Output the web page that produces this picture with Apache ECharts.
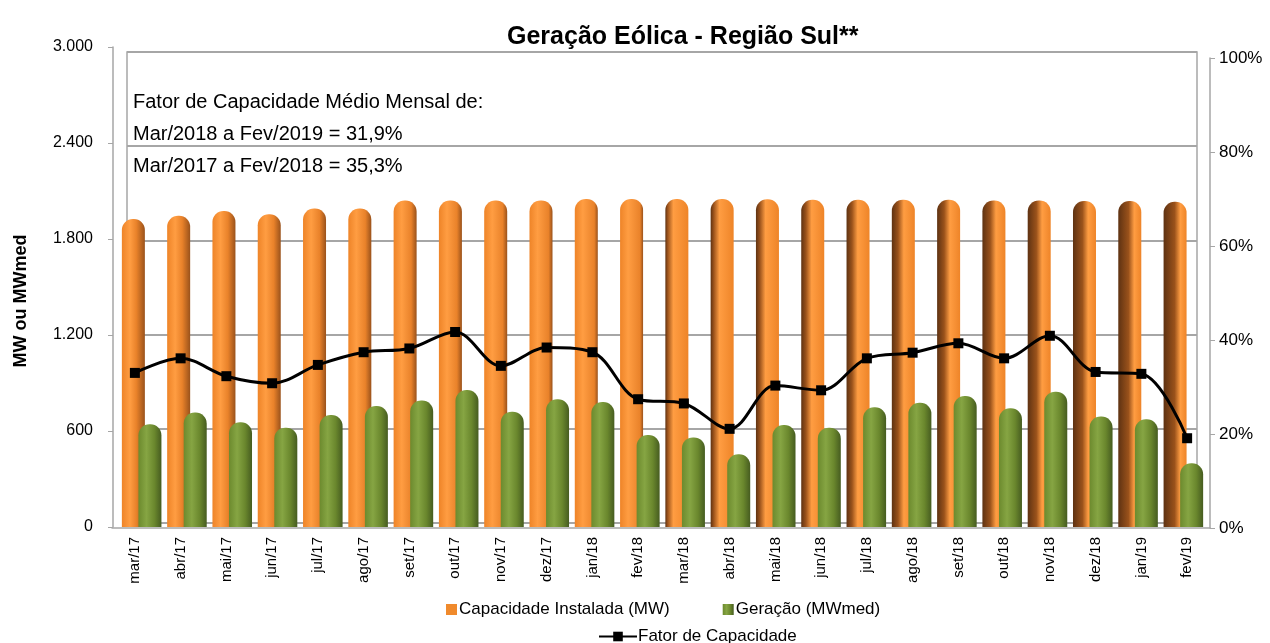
<!DOCTYPE html>
<html>
<head>
<meta charset="utf-8">
<script src="https://cdn.jsdelivr.net/npm/echarts@6/dist/echarts.min.js"></script>
<style>
  html, body { margin: 0; padding: 0; background: #fff; }
  #chart { width: 1270px; height: 643px; }
</style>
</head>
<body>
<div id="chart"></div>
<script>
// dados
const categories = ['mar/17', 'abr/17', 'mai/17', 'jun/17', 'jul/17', 'ago/17', 'set/17', 'out/17', 'nov/17', 'dez/17', 'jan/18', 'fev/18',
  'mar/18', 'abr/18', 'mai/18', 'jun/18', 'jul/18', 'ago/18', 'set/18', 'out/18', 'nov/18', 'dez/18', 'jan/19', 'fev/19'];
const capacidade = [1925, 1945, 1975, 1955, 1990, 1990, 2040, 2040, 2040, 2040, 2050, 2050,
  2050, 2050, 2048, 2045, 2045, 2045, 2045, 2040, 2040, 2038, 2038, 2033];
const geracao = [642, 715, 654, 621, 700, 756, 790, 856, 721, 798, 781, 575,
  560, 454, 637, 621, 748, 777, 819, 742, 846, 690, 673, 398];
const fator = [33.0, 36.1, 32.3, 30.8, 34.7, 37.4, 38.2, 41.7, 34.5, 38.4, 37.4, 27.4,
  26.5, 21.1, 30.3, 29.3, 36.1, 37.3, 39.3, 36.1, 40.9, 33.2, 32.8, 19.1];
const leftTicks = [0, 600, 1200, 1800, 2400, 3000];
const rightTicks = [0, 20, 40, 60, 80, 100];
const notas = ['Fator de Capacidade Médio Mensal de:', 'Mar/2018 a Fev/2019 = 31,9%', 'Mar/2017 a Fev/2018 = 35,3%'];

const chart = echarts.init(document.getElementById('chart'));
const font = 'Liberation Sans, Arial, sans-serif';
const gridGray = '#A6A6A6';

// sombreamento "3D" dos cilindros laranja: escuro à direita no início, à esquerda no fim
function orangeFor(i) {
  const mid = 11.5;
  if (i <= mid) {
    const d = 0.12 + (mid - i) / mid * 0.25;
    return new echarts.graphic.LinearGradient(0, 0, 1, 0, [
      { offset: 0, color: '#EE8428' },
      { offset: 0.35, color: '#FF9D42' },
      { offset: 1 - d, color: '#E9822A' },
      { offset: 1, color: '#9A521B' }
    ]);
  }
  const d = 0.08 + (i - mid) / mid * 0.4;
  return new echarts.graphic.LinearGradient(0, 0, 1, 0, [
    { offset: 0, color: '#5E3212' },
    { offset: d, color: '#9A521B' },
    { offset: Math.min(d + 0.25, 0.9), color: '#FF9D42' },
    { offset: 1, color: '#EE8428' }
  ]);
}
const green = new echarts.graphic.LinearGradient(0, 0, 1, 0, [
  { offset: 0, color: '#6C8A2E' },
  { offset: 0.35, color: '#86A543' },
  { offset: 0.7, color: '#6A872D' },
  { offset: 1, color: '#465C20' }
]);

const option = {
  backgroundColor: '#fff',
  animation: false,
  color: ['#F08A2C', '#7A9A3A', '#000'],
  textStyle: { fontFamily: font },
  title: [
    {
      text: 'Geração Eólica - Região Sul**',
      left: 502, top: 20,
      textStyle: { fontSize: 25, fontWeight: 'bold', color: '#000', fontFamily: font }
    },
    {
      text: notas.join('\n'),
      left: 128, top: 81,
      textStyle: { fontSize: 20, fontWeight: 'normal', color: '#000', lineHeight: 32, fontFamily: font }
    }
  ],
  graphic: [
    {
      type: 'text', x: 21, y: 301, rotation: Math.PI / 2,
      style: {
        text: 'MW ou MWmed', fill: '#000', font: 'bold 18px ' + font,
        textAlign: 'center', textVerticalAlign: 'middle'
      }
    }
  ],
  legend: [
    {
      data: ['Capacidade Instalada (MW)', 'Geração (MWmed)'],
      left: 441, top: 596,
      icon: 'rect', itemWidth: 11, itemHeight: 11, itemGap: 53,
      textStyle: { fontSize: 17, color: '#000', padding: [0, 0, 0, -3] }
    },
    {
      data: ['Fator de Capacidade'],
      left: 593, top: 623,
      itemWidth: 38, itemHeight: 12,
      textStyle: { fontSize: 17, color: '#000', padding: [0, 0, 0, -4] }
    }
  ],
  grid: [
    // barras + eixo esquerdo
    { left: 119, right: 64, top: 47, bottom: 116 },
    // linha + eixo direito + categorias
    { left: 112, right: 60, top: 58, bottom: 115 },
    // parede do fundo
    { left: 127, right: 73, top: 52, bottom: 120, show: true, borderColor: gridGray, borderWidth: 1.5, backgroundColor: 'transparent' }
  ],
  xAxis: [
    { type: 'category', gridIndex: 0, data: categories, show: false },
    {
      type: 'category', gridIndex: 1, data: categories,
      axisLine: { lineStyle: { color: gridGray, width: 1.5 } },
      axisTick: { lineStyle: { color: gridGray }, length: 5 },
      axisLabel: { rotate: 90, fontSize: 15, color: '#000', margin: 9 }
    },
    { type: 'category', gridIndex: 2, data: categories, show: false }
  ],
  yAxis: [
    {
      type: 'value', gridIndex: 0, min: leftTicks[0], max: leftTicks[leftTicks.length - 1], interval: 600,
      offset: 6,
      axisLine: { show: true, lineStyle: { color: gridGray, width: 1.5 } },
      axisTick: { show: true, length: 5, lineStyle: { color: gridGray } },
      axisLabel: {
        fontSize: 16, color: '#000', margin: 20,
        formatter: v => v.toLocaleString('pt-BR')
      },
      splitLine: { show: false }
    },
    {
      type: 'value', gridIndex: 1, position: 'right', min: rightTicks[0], max: rightTicks[rightTicks.length - 1], interval: 20,
      axisLine: { show: true, lineStyle: { color: gridGray, width: 1.5 } },
      axisTick: { show: true, length: 5, lineStyle: { color: gridGray } },
      axisLabel: { fontSize: 17, color: '#000', margin: 9, formatter: '{value}%' },
      splitLine: { show: false }
    },
    {
      type: 'value', gridIndex: 2, min: 0, max: 3000, interval: 600,
      axisLine: { show: false }, axisTick: { show: false }, axisLabel: { show: false },
      splitLine: { show: true, lineStyle: { color: gridGray, width: 2 } }
    }
  ],
  series: [
    {
      name: 'Capacidade Instalada (MW)', type: 'bar', xAxisIndex: 0, yAxisIndex: 0,
      data: capacidade, barWidth: 23, barGap: '-28%',
      itemStyle: {
        color: p => p.dataIndex === undefined ? '#F08A2C' : orangeFor(p.dataIndex),
        borderRadius: [11, 11, 0, 0]
      }
    },
    {
      name: 'Geração (MWmed)', type: 'bar', xAxisIndex: 0, yAxisIndex: 0,
      data: geracao, barWidth: 23,
      itemStyle: { color: green, borderRadius: [11, 11, 0, 0] }
    },
    {
      name: 'Fator de Capacidade', type: 'line', xAxisIndex: 1, yAxisIndex: 1,
      data: fator, smooth: 0.35,
      symbol: 'rect', symbolSize: 10,
      lineStyle: { color: '#000', width: 3 },
      itemStyle: { color: '#000' },
      z: 5
    }
  ]
};

chart.setOption(option);
</script>
</body>
</html>
